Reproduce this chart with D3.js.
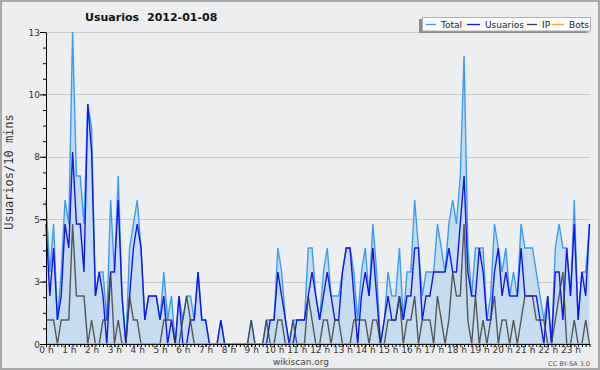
<!DOCTYPE html>
<html>
<head>
<meta charset="utf-8">
<script src="https://cdn.jsdelivr.net/npm/d3@7/dist/d3.min.js"></script>
<style>
body { margin: 0; background: #fff; }
svg { display: block; font-family: "DejaVu Sans", Verdana, sans-serif; }
</style>
</head>
<body>
<div id="chart"></div>
<script>
// one value every 10 minutes, 0 h .. 23 h 50
const hourLabels = ['0 h','1 h','2 h','3 h','4 h','5 h','6 h','7 h','8 h','9 h','10 h','11 h',
	'12 h','13 h','14 h','15 h','16 h','17 h','18 h','19 h','20 h','21 h','22 h','23 h']

const total = [
	6,3,5,1,3,6,5,13,7,7,5,10,
	9,2,3,3,1,6,3,7,2,0,4,5,
	6,4,1,2,2,2,1,3,1,2,0,2,
	1,2,2,1,3,1,1,0,0,0,1,0,
	0,0,0,0,0,0,1,0,0,0,1,1,
	1,4,3,1,0,1,1,1,1,4,4,2,
	1,3,4,2,2,2,3,4,4,3,1,3,
	4,2,5,3,0,1,3,2,2,4,1,3,
	3,6,4,2,3,3,3,5,4,3,5,6,
	5,7,12,4,2,4,4,4,1,2,5,4,
	3,4,2,3,2,5,4,4,4,3,2,1,
	2,0,4,5,4,4,2,6,1,3,3,5]

const usuarios = [
	5,2,4,1,2,5,4,8,5,5,3,10,
	8,2,3,2,0,3,3,6,2,0,2,4,
	5,4,1,2,2,2,1,2,0,1,0,2,
	0,0,1,1,3,1,1,0,0,0,1,0,
	0,0,0,0,0,0,0,0,0,0,0,1,
	1,3,2,1,0,0,1,1,1,2,3,2,
	1,2,3,2,1,1,3,4,4,2,0,2,
	3,2,4,2,0,1,2,1,1,2,1,2,
	2,4,4,1,2,2,3,3,3,3,4,3,
	3,5,7,3,2,2,4,3,1,1,3,4,
	2,3,2,2,2,4,2,2,2,2,1,0,
	2,0,3,3,1,4,2,5,1,3,2,5]

const ip = [
	1,1,1,0,1,1,1,5,2,2,2,0,
	1,0,0,1,1,3,0,1,0,0,2,1,
	1,0,0,0,0,0,0,1,1,1,0,0,
	1,2,1,0,0,0,0,0,0,0,0,0,
	0,0,0,0,0,0,1,0,0,0,1,0,
	0,1,1,0,0,1,0,0,0,2,1,0,
	0,1,1,0,1,1,0,0,0,1,1,1,
	1,0,1,1,0,0,1,1,1,2,0,1,
	1,2,0,1,1,1,0,2,1,0,1,3,
	2,2,5,1,0,2,0,1,0,1,2,0,
	1,1,0,1,0,1,2,2,2,1,1,1,
	0,0,1,2,3,0,0,1,0,0,1,0]

const bots = [
	0,0,0,0,0,0,0,0,0,0,0,0,
	0,0,0,0,0,0,0,0,0,0,0,0,
	0,0,0,0,0,0,0,0,0,0,0,0,
	0,0,0,0,0,0,0,0,0,0,0,0,
	0,0,0,0,0,0,0,0,0,0,0,0,
	0,0,0,0,0,0,0,0,0,0,0,0,
	0,0,0,0,0,0,0,0,0,0,0,0,
	0,0,0,0,0,0,0,0,0,0,0,0,
	0,0,0,0,0,0,0,0,0,0,0,0,
	0,0,0,0,0,0,0,0,0,0,0,0,
	0,0,0,0,0,0,0,0,0,0,0,0,
	0,0,0,0,0,0,0,0,0,0,0,0]

const yTicks = [0, 2.6, 5.2, 7.8, 10.4, 13]
const yTickLabels = ['0', '3', '5', '8', '10', '13']

const series = [
	{ name: 'Total', values: total, color: '#3b9cf5' },
	{ name: 'Usuarios', values: usuarios, color: '#1414f5' },
	{ name: 'IP', values: ip, color: '#404040' },
	{ name: 'Bots', values: bots, color: '#ff9f1a' }
]

const width = 600, height = 370,
	margin = { top: 32, right: 10.5, bottom: 26, left: 46 },
	x = d3.scaleLinear().domain([0, total.length - 1]).range([margin.left, width - margin.right]),
	y = d3.scaleLinear().domain([0, 13]).range([height - margin.bottom, margin.top])

const svg = d3.select('#chart').append('svg')
	.attr('width', width)
	.attr('height', height)

svg.append('rect')
	.attr('x', 1).attr('y', 1)
	.attr('width', width - 2).attr('height', height - 2)
	.attr('fill', '#edeef0')
	.attr('stroke', '#a8a8a8')
	.attr('stroke-width', 2)

// grid
svg.append('g').selectAll('line')
	.data(yTicks.filter((d) => d > 0))
	.enter().append('line')
		.attr('x1', margin.left).attr('x2', width - margin.right)
		.attr('y1', (d) => Math.round(y(d)) + 0.5).attr('y2', (d) => Math.round(y(d)) + 0.5)
		.attr('stroke', '#cacbcd')

svg.append('path')
	.datum(total)
	.attr('fill', '#c6dcf0')
	.attr('d', d3.area()
		.x((d, i) => x(i))
		.y0(y(0))
		.y1((d) => y(d)))

const line = d3.line()
	.x((d, i) => x(i))
	.y((d) => y(d))

svg.append('g').selectAll('path')
	.data(series)
	.enter().append('path')
		.attr('fill', 'none')
		.attr('stroke', (d) => d.color)
		.attr('stroke-width', 1.4)
		.attr('stroke-opacity', (d) => d.name === 'IP' ? 0.85 : 1)
		.attr('d', (d) => line(d.values))

// y axis, labelled ticks + small ones in between
const yAxis = svg.append('g')
	.attr('transform', `translate(${margin.left},0)`)
	.call(d3.axisLeft(y)
		.tickValues(yTicks)
		.tickFormat((d, i) => yTickLabels[i])
		.tickSize(6)
		.tickSizeOuter(0))

svg.append('g')
	.attr('transform', `translate(${margin.left},0)`)
	.call(d3.axisLeft(y)
		.tickValues(d3.range(0, 13.01, 0.65))
		.tickFormat('')
		.tickSize(3)
		.tickSizeOuter(0))
	.select('.domain').remove()

svg.append('g')
	.attr('transform', `translate(0,${y(0)})`)
	.call(d3.axisBottom(x)
		.tickValues(d3.range(total.length))
		.tickFormat('')
		.tickSize(3)
		.tickSizeOuter(0))

svg.append('g')
	.attr('transform', `translate(0,${y(0)})`)
	.call(d3.axisBottom(x)
		.tickValues(hourLabels.map((d, i) => i * 6))
		.tickFormat((d, i) => hourLabels[i])
		.tickSize(3)
		.tickSizeOuter(0))
	.call((g) => g.select('.domain').remove())
	.call((g) => g.selectAll('text').attr('dy', '0.6em').attr('y', 4))

svg.selectAll('.domain, .tick line').attr('stroke', '#000')
svg.selectAll('.tick text')
	.attr('fill', '#333')
	.attr('font-family', '"DejaVu Sans", sans-serif')
	.attr('font-size', '9px')
yAxis.selectAll('text').attr('x', -6).attr('dy', '0.35em')

// titles
svg.append('text')
	.attr('x', 85).attr('y', 21)
	.attr('font-size', '11px').attr('font-weight', 'bold').attr('fill', '#111')
	.text('Usuarios')
svg.append('text')
	.attr('x', 147).attr('y', 21)
	.attr('font-size', '11px').attr('font-weight', 'bold').attr('fill', '#111')
	.text('2012-01-08')

svg.append('text')
	.attr('transform', 'translate(13,172) rotate(-90)')
	.attr('text-anchor', 'middle')
	.attr('font-family', '"DejaVu Sans Mono", monospace')
	.attr('font-size', '12px').attr('fill', '#333')
	.text('Usuarios/10 mins')

svg.append('text')
	.attr('x', 301).attr('y', 365)
	.attr('text-anchor', 'middle')
	.attr('font-size', '9px').attr('fill', '#444')
	.text('wikiscan.org')

svg.append('text')
	.attr('x', 590).attr('y', 366)
	.attr('text-anchor', 'end')
	.attr('font-size', '6.5px').attr('fill', '#555')
	.text('CC BY-SA 3.0')

// legend
const legend = svg.append('g').attr('transform', 'translate(422,17)')
legend.append('rect')
	.attr('x', -3).attr('y', 2)
	.attr('width', 168.5).attr('height', 14)
	.attr('fill', '#8a8a8a')
legend.append('rect')
	.attr('x', 0.5).attr('y', 0.5)
	.attr('width', 168).attr('height', 13.5)
	.attr('fill', '#fcfcfc')
	.attr('stroke', '#b0b0b0')

const legendX = [4, 45, 105, 130],
	legendLen = [10, 13, 10, 12]
const items = legend.selectAll('.item')
	.data(series)
	.enter().append('g')
		.attr('class', 'item')
		.attr('transform', (d, i) => `translate(${legendX[i]},0)`)
items.append('line')
	.attr('x1', 0).attr('x2', (d, i) => legendLen[i])
	.attr('y1', 7.5).attr('y2', 7.5)
	.attr('stroke', (d) => d.color)
	.attr('stroke-width', 1.3)
items.append('text')
	.attr('x', (d, i) => legendLen[i] + 5)
	.attr('y', 11)
	.attr('font-size', '9px').attr('fill', '#222')
	.text((d) => d.name)
</script>
</body>
</html>
